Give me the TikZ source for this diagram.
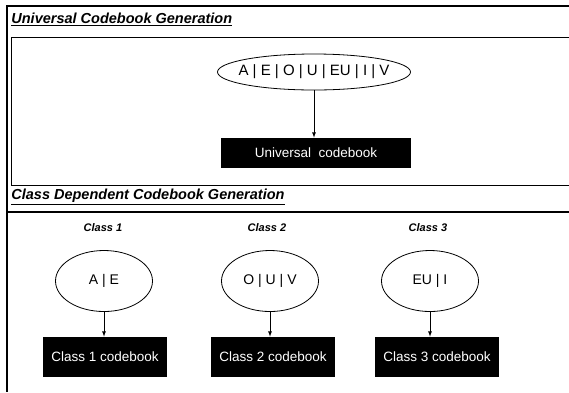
\documentclass[tikz,border=0pt]{standalone}
\usepackage{fontspec}
\setmainfont{Liberation Sans}
\usetikzlibrary{shapes.geometric}
\begin{document}
\begin{tikzpicture}[x=1pt,y=-1pt,line width=0.8pt,
  title/.style={anchor=west,inner sep=0pt,font=\bfseries\itshape\fontsize{14.5}{16}\selectfont},
  classlabel/.style={font=\bfseries\itshape\fontsize{11}{12}\selectfont},
  vowels/.style={draw,ellipse,inner sep=0pt,minimum width=97pt,minimum height=61pt,font=\fontsize{14}{16}\selectfont},
  bookbox/.style={fill=black,text=white,inner sep=0pt,minimum width=124pt,minimum height=40pt,font=\fontsize{13.5}{15}\selectfont}]
\useasboundingbox (0,0) rectangle (569,392);

% frames
\draw[line width=1.5pt] (569,6)--(7,6)--(7,392);
\draw[line width=1pt] (569,37)--(11,37)--(11,185)--(569,185);
\draw[line width=1.3pt] (7,212)--(569,212);

% universal part
\node[title] (t1) at (11,19) {\underline{Universal Codebook Generation}};
\node[draw,ellipse,inner xsep=-20pt,inner ysep=0pt,minimum width=193pt,minimum height=36pt,font=\fontsize{15}{17}\selectfont] (all) at (314,72) {A | E | O | U | EU | I | V};
\node[bookbox,minimum width=190pt,minimum height=30pt] (ub) at (316,153) {Universal\ \ codebook};
\draw[-latex] (all.south)--(all.south |- ub.north);

% class dependent part
\node[title] (t2) at (11,197) {\underline{Class Dependent Codebook Generation}};

\node[classlabel] (c1) at (103,228) {Class 1};
\node[classlabel] (c2) at (267,228) {Class 2};
\node[classlabel] (c3) at (428,228) {Class 3};

\node[vowels] (e1) at (104,281) {A | E};
\node[vowels] (e2) at (270,281) {O | U | V};
\node[vowels] (e3) at (430,281) {EU | I};

\node[bookbox] (b1) at (105,357) {Class 1 codebook};
\node[bookbox] (b2) at (273,357) {Class 2 codebook};
\node[bookbox] (b3) at (437,357) {Class 3 codebook};

\draw[-latex] (e1.south)--(e1.south |- b1.north);
\draw[-latex] (e2.south)--(e2.south |- b2.north);
\draw[-latex] (e3.south)--(e3.south |- b3.north);
\end{tikzpicture}
\end{document}
